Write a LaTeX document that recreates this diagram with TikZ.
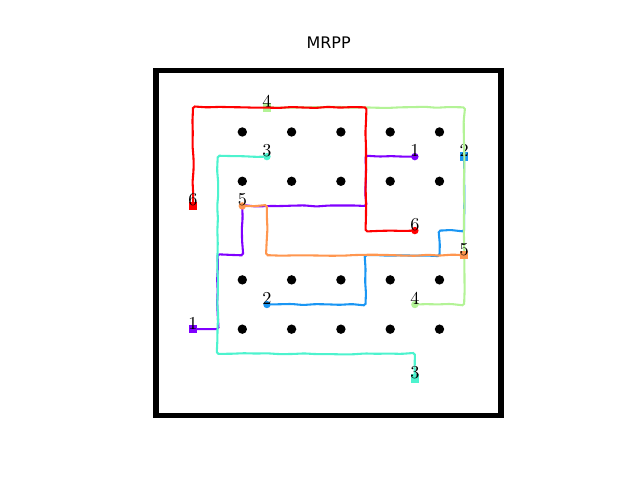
\documentclass[tikz,border=0pt]{standalone}
\usepackage{fontspec}
\newfontfamily\titlefont{DejaVu Sans}
\usetikzlibrary{decorations.pathmorphing}
\definecolor{agentA}{RGB}{128,0,255}
\definecolor{agentB}{RGB}{26,150,243}
\definecolor{agentC}{RGB}{77,243,206}
\definecolor{agentD}{RGB}{179,243,150}
\definecolor{agentE}{RGB}{255,150,79}
\definecolor{agentF}{RGB}{255,0,0}
\tikzset{wall/.style={line width=3.2pt}}
\tikzset{griddot/.style={circle, fill=black, inner sep=0pt, minimum size=0.19cm}}
\tikzset{route/.style={line width=1.2pt, rounded corners=1pt, decorate,
    decoration={random steps, segment length=7pt, amplitude=0.35pt}}}
\tikzset{startbox/.style={rectangle, inner sep=0pt, minimum size=0.17cm}}
\tikzset{goaldot/.style={circle, inner sep=0pt, minimum size=0.15cm}}
\tikzset{tag/.style={anchor=base, inner sep=0pt, font=\fontsize{10.5}{12}\selectfont}}

\begin{document}
\begin{tikzpicture}
		\useasboundingbox (-4.915,-7.059) rectangle (8.067,2.677);
		\node[anchor=base, font=\titlefont\fontsize{9.2}{11}\selectfont] (title) at (1.75,1.684) {MRPP};
		\draw[wall] (-1.75,1.25) rectangle (5.25,-5.75);
		% obstacles
		\foreach \c in {0,...,4}
			\foreach \r in {0,1,3,4}
				\node[griddot] (d\c\r) at (\c,-\r) {};
		% agent 1
		\coordinate (s1) at (-1,-4);
		\coordinate (g1) at (3.5,-0.5);
		\draw[route, agentA] (s1) -| (-0.5,-2.5) -| (0,-1.5) -| (2.5,-0.5) -- (g1);
		\node[startbox, fill=agentA] (m1) at (s1) {};
		\node[goaldot, fill=agentA] (n1) at (g1) {};
		\node[tag] (t1) at (s1) {1};
		\node[tag] (u1) at (g1) {1};
		% agent 2
		\coordinate (s2) at (4.5,-0.5);
		\coordinate (g2) at (0.5,-3.5);
		\draw[route, agentB] (s2) |- (4,-2) |- (2.5,-2.5) |- (g2);
		\node[startbox, fill=agentB] (m2) at (s2) {};
		\node[goaldot, fill=agentB] (n2) at (g2) {};
		\node[tag] (t2) at (s2) {2};
		\node[tag] (u2) at (g2) {2};
		% agent 3
		\coordinate (s3) at (3.5,-5);
		\coordinate (g3) at (0.5,-0.5);
		\draw[route, agentC] (s3) |- (-0.5,-4.5) |- (g3);
		\node[startbox, fill=agentC] (m3) at (s3) {};
		\node[goaldot, fill=agentC] (n3) at (g3) {};
		\node[tag] (t3) at (s3) {3};
		\node[tag] (u3) at (g3) {3};
		% agent 4
		\coordinate (s4) at (0.5,0.5);
		\coordinate (g4) at (3.5,-3.5);
		\draw[route, agentD] (s4) -| (4.5,-3.5) -- (g4);
		\node[startbox, fill=agentD] (m4) at (s4) {};
		\node[goaldot, fill=agentD] (n4) at (g4) {};
		\node[tag] (t4) at (s4) {4};
		\node[tag] (u4) at (g4) {4};
		% agent 5
		\coordinate (s5) at (4.5,-2.5);
		\coordinate (g5) at (0,-1.5);
		\draw[route, agentE] (s5) -| (0.5,-1.5) -- (g5);
		\node[startbox, fill=agentE] (m5) at (s5) {};
		\node[goaldot, fill=agentE] (n5) at (g5) {};
		\node[tag] (t5) at (s5) {5};
		\node[tag] (u5) at (g5) {5};
		% agent 6
		\coordinate (s6) at (-1,-1.5);
		\coordinate (g6) at (3.5,-2);
		\draw[route, agentF] (s6) |- (2.5,0.5) |- (g6);
		\node[startbox, fill=agentF] (m6) at (s6) {};
		\node[goaldot, fill=agentF] (n6) at (g6) {};
		\node[tag] (t6) at (s6) {6};
		\node[tag] (u6) at (g6) {6};
\end{tikzpicture}
\end{document}
